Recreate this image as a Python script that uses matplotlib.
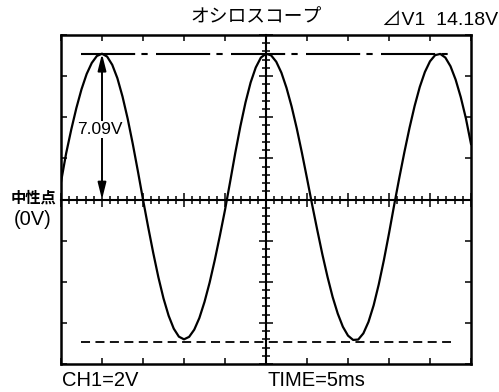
"""Oscilloscope screen sketch: 50 Hz sine wave against the neutral point."""
import matplotlib
matplotlib.use('Agg')
import matplotlib.pyplot as plt
from matplotlib.ticker import MultipleLocator

# Time samples (ms) read along the screen, 5 ms per division
time_ms = [
    0.0, 0.625, 1.25, 1.875, 2.5, 3.125, 3.75, 4.375, 5.0,
    5.625, 6.25, 6.875, 7.5, 8.125, 8.75, 9.375, 10.0,
    10.625, 11.25, 11.875, 12.5, 13.125, 13.75, 14.375, 15.0,
    15.625, 16.25, 16.875, 17.5, 18.125, 18.75, 19.375, 20.0,
    20.625, 21.25, 21.875, 22.5, 23.125, 23.75, 24.375, 25.0,
    25.625, 26.25, 26.875, 27.5, 28.125, 28.75, 29.375, 30.0,
    30.625, 31.25, 31.875, 32.5, 33.125, 33.75, 34.375, 35.0,
    35.625, 36.25, 36.875, 37.5, 38.125, 38.75, 39.375, 40.0,
    40.625, 41.25, 41.875, 42.5, 43.125, 43.75, 44.375, 45.0,
    45.625, 46.25, 46.875, 47.5, 48.125, 48.75, 49.375, 50.0,
]

# Voltage (V), 2 V per division
volts = [
    0.85, 2.24, 3.40, 4.45, 5.36, 6.10, 6.64, 6.98, 7.09,
    6.95, 6.55, 5.90, 5.01, 3.94, 2.71, 1.38, 0.0,
    -1.33, -2.60, -3.78, -4.81, -5.65, -6.28, -6.67, -6.80,
    -6.68, -6.33, -5.76, -4.98, -4.04, -2.95, -1.76, -0.51,
    0.86, 2.26, 3.56, 4.72, 5.69, 6.42, 6.90, 7.09,
    7.01, 6.70, 6.17, 5.43, 4.52, 3.46, 2.28, 1.03,
    -0.25, -1.48, -2.67, -3.76, -4.74, -5.55, -6.19, -6.62,
    -6.83, -6.81, -6.51, -5.95, -5.15, -4.13, -2.95, -1.65,
    -0.28, 1.04, 2.30, 3.48, 4.55, 5.47, 6.20, 6.72,
    7.02, 7.08, 6.90, 6.48, 5.83, 4.98, 3.95, 2.70,
]

# Reference levels and the measured amplitude
peak_level = 7.09
trough_level = -6.95
level_span = [2.4, 47.6]
amplitude_label = '7.09V'
delta_label = '⊿V1  14.18V'

LATIN = ['Liberation Sans', 'Noto Sans CJK JP', 'DejaVu Sans']
CJK = ['Noto Sans CJK JP', 'DejaVu Sans']

W, H = 499, 392


def px(x, y):
    """Pixel position (from top-left) to figure fraction"""
    return x / W, 1 - y / H


def setup_screen(fig):
    """Frame with inner ticks plus the centre graticule cross"""
    rect = [61 / W, 1 - 364 / H, 410 / W, 329 / H]
    ax = fig.add_axes(rect)
    ax.set_xlim(0, 50)
    ax.set_ylim(-8, 8)
    for spine in ax.spines.values():
        spine.set_linewidth(1.8)
    ax.xaxis.set_major_locator(MultipleLocator(5))
    ax.yaxis.set_major_locator(MultipleLocator(2))
    ax.tick_params(direction='in', length=4, width=1.1, top=True, right=True,
                   labelbottom=False, labelleft=False)

    # centre cross on an overlaid axes
    cross = fig.add_axes(rect, frameon=True)
    cross.patch.set_visible(False)
    cross.set_xlim(0, 50)
    cross.set_ylim(-8, 8)
    cross.spines['top'].set_visible(False)
    cross.spines['right'].set_visible(False)
    cross.spines['left'].set_position(('data', 25))
    cross.spines['bottom'].set_position(('data', 0))
    cross.spines['left'].set_linewidth(1.5)
    cross.spines['bottom'].set_linewidth(1.5)
    cross.xaxis.set_major_locator(MultipleLocator(5))
    cross.xaxis.set_minor_locator(MultipleLocator(1))
    cross.yaxis.set_major_locator(MultipleLocator(2))
    cross.yaxis.set_minor_locator(MultipleLocator(0.4))
    cross.tick_params(which='major', direction='inout', length=10, width=1.1,
                      labelbottom=False, labelleft=False)
    cross.tick_params(which='minor', direction='inout', length=5.5, width=1.1)
    return ax


def draw_trace(ax):
    """Sine trace, level lines and the amplitude arrow"""
    ax.plot(time_ms, volts, color='black', linewidth=1.6, zorder=3)
    ax.plot(level_span, [peak_level, peak_level], color='black', linewidth=1.5,
            linestyle=(0, (26, 3, 3, 4)), zorder=2)
    ax.plot(level_span, [trough_level, trough_level], color='black', linewidth=1.3,
            linestyle=(0, (5, 3)), zorder=2)

    ax.annotate('', xy=(5, peak_level), xytext=(5, 0),
                arrowprops=dict(arrowstyle='<|-|>,head_length=1.0,head_width=0.25',
                                mutation_scale=10, color='black', lw=1.4,
                                shrinkA=0, shrinkB=0), zorder=4)
    ax.text(4.8, 3.4, amplitude_label, ha='center', va='center', fontsize=12.5,
            family=LATIN, zorder=5,
            bbox=dict(facecolor='white', edgecolor='none', pad=1.0))


def add_labels(fig):
    """Screen annotations around the frame"""
    fig.text(*px(256, 17), 'オシロスコープ', ha='center', va='center',
             fontsize=13.5, family=CJK)
    fig.text(*px(498, 20), delta_label, ha='right', va='center',
             fontsize=14, family=LATIN)
    fig.text(*px(33.5, 198), '中性点', ha='center', va='center',
             fontsize=11, fontweight='bold', family=CJK)
    fig.text(*px(33, 220), '(0V)', ha='center', va='center',
             fontsize=14.5, family=LATIN)
    fig.text(*px(62, 380), 'CH1=2V', ha='left', va='center',
             fontsize=14.5, family=LATIN)
    fig.text(*px(267, 380), 'TIME=5ms', ha='left', va='center',
             fontsize=14.5, family=LATIN)


def main():
    fig = plt.figure(figsize=(W / 100, H / 100), dpi=100)
    ax = setup_screen(fig)
    draw_trace(ax)
    add_labels(fig)
    fig.savefig('out.png', dpi=100)


if __name__ == "__main__":
    main()
